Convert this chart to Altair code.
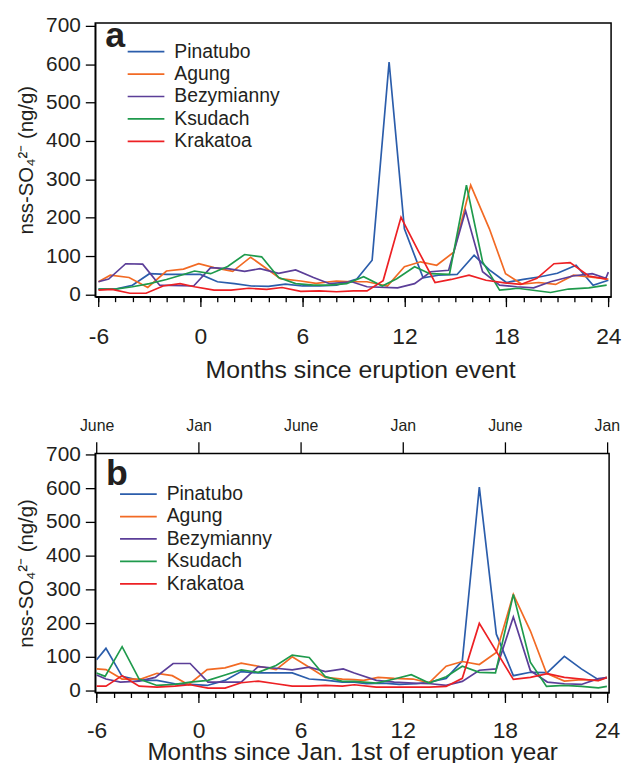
import altair as alt
import pandas as pd

SERIES = ["Pinatubo", "Agung", "Bezymianny", "Ksudach", "Krakatoa"]
COLORS = ["#2b5dab", "#f26a24", "#5b3e98", "#1f9a4c", "#ed2024"]
INK = "#231f20"
FONT = "Liberation Sans"

# ---------------- panel a : months since eruption event ----------------
a_pinatubo_m = [-6.0, -5.0, -4.0, -3.0, -2.0, -1.0, 0.0, 1.0, 2.0, 3.0, 4.0, 5.0, 6.0, 7.0, 8.0, 9.2, 10.1,
                11.1, 12.0, 13.1, 14.0, 15.1, 16.1, 17.0, 18.0, 19.0, 20.0, 21.0, 22.1, 23.1, 24.0]
a_pinatubo_v = [14, 14, 24, 54, 52, 52, 52, 33, 28, 22, 21, 27, 22, 22, 24, 40, 89,
                606, 171, 43, 50, 52, 102, 64, 31, 39, 46, 55, 76, 24, 37]

a_agung_m = [-6.0, -5.3, -4.2, -3.1, -2.0, -1.0, -0.1, 0.8, 1.9, 2.95, 3.9, 4.7, 5.9, 6.8, 8.0, 8.9, 9.8,
             11.0, 12.0, 12.95, 13.9, 14.9, 15.9, 17.0, 17.95, 18.9, 19.9, 20.9, 21.95, 23.0, 24.0]
a_agung_v = [33, 50, 44, 18, 61, 66, 80, 70, 60, 97, 67, 41, 35, 29, 35, 33, 33,
             22, 72, 85, 76, 110, 285, 171, 54, 27, 31, 26, 50, 45, 40]

a_bezym_m = [-6.0, -5.4, -4.4, -3.4, -2.4, -0.4, 0.6, 1.6, 2.6, 3.5, 4.6, 5.6, 6.65, 7.6, 8.9, 9.8,
             11.6, 12.6, 13.55, 14.6, 15.6, 16.6, 17.6, 18.6, 19.6, 20.6, 21.9, 23.05, 23.85, 24.0]
a_bezym_v = [33, 40, 80, 79, 24, 22, 70, 67, 60, 67, 55, 64, 44, 28, 33, 20,
             17, 28, 59, 63, 218, 59, 24, 20, 17, 33, 48, 54, 42, 58]

a_ksudach_m = [-6.0, -5.0, -4.0, -3.0, -2.0, -1.0, -0.35, 0.6, 1.6, 2.6, 3.6, 4.6, 5.6, 6.65, 7.6, 8.6,
               9.6, 10.7, 11.55, 12.6, 13.5, 14.65, 15.65, 16.6, 17.6, 18.65, 20.6, 21.65, 22.85, 23.9]
a_ksudach_v = [14, 14, 20, 28, 39, 52, 61, 54, 73, 104, 98, 44, 28, 24, 24, 28,
               46, 22, 41, 72, 54, 52, 285, 85, 11, 16, 5, 14, 17, 24]

a_krakatoa_m = [-6.0, -5.2, -4.15, -3.2, -2.2, -1.2, -0.35, 0.8, 1.8, 2.85, 3.9, 4.8, 5.9, 7.0, 8.0, 9.0,
                9.8, 10.75, 11.8, 12.8, 13.8, 14.75, 15.8, 16.8, 17.9, 18.85, 19.8, 20.8, 21.75, 22.85, 23.9]
a_krakatoa_v = [11, 13, 3, 3, 22, 28, 20, 11, 11, 16, 13, 18, 8, 9, 7, 9,
                9, 36, 201, 115, 31, 39, 50, 37, 30, 26, 42, 80, 83, 48, 40]

# ---------------- panel b : months since Jan. 1st of eruption year ----------------
b_pinatubo_m = [-6.0, -5.45, -4.5, -3.5, -2.45, -1.4, -0.5, 0.5, 1.55, 2.5, 3.5, 4.55, 5.5, 6.5, 7.45, 8.45,
                9.15, 9.85, 10.85, 11.8, 12.8, 13.55, 14.55, 15.5, 16.5, 17.5, 18.5, 19.5, 20.5, 21.5, 22.5, 23.5, 24.0]
b_pinatubo_v = [91, 125, 42, 30, 30, 20, 18, 15, 30, 56, 52, 52, 52, 34, 31, 25,
                25, 20, 22, 18, 20, 25, 36, 88, 603, 167, 44, 54, 53, 101, 64, 32, 38]

b_agung_m = [-6.0, -5.45, -4.5, -3.4, -2.45, -1.55, -0.6, 0.5, 1.55, 2.5, 3.5, 4.55, 5.5, 6.5, 7.45, 8.45,
             9.15, 9.7, 10.55, 11.5, 12.6, 13.55, 14.55, 15.5, 16.5, 17.5, 18.5, 19.5, 20.45, 21.5, 22.5, 23.5, 24.0]
b_agung_v = [64, 62, 34, 34, 51, 44, 17, 62, 67, 81, 72, 62, 100, 69, 39, 34,
             32, 30, 39, 36, 34, 23, 72, 86, 77, 113, 285, 177, 51, 28, 32, 30, 40]

b_bezym_m = [-6.0, -5.45, -4.6, -3.5, -2.55, -1.5, -0.5, 0.55, 1.55, 2.5, 3.5, 4.55, 5.5, 6.5, 7.45, 8.5,
             9.15, 10.45, 11.5, 12.6, 13.65, 14.55, 15.5, 16.5, 17.5, 18.5, 19.5, 20.5, 21.5, 22.5, 23.5, 24.0]
b_bezym_v = [46, 34, 25, 28, 39, 80, 80, 25, 25, 25, 71, 66, 61, 69, 56, 64,
             52, 30, 25, 22, 20, 15, 27, 60, 64, 218, 59, 25, 20, 18, 35, 38]

b_ksudach_m = [-6.0, -5.5, -4.5, -3.5, -2.45, -1.4, -0.5, 0.55, 1.55, 2.5, 3.5, 4.55, 5.5, 6.5, 7.45, 8.45,
               9.15, 10.45, 11.5, 12.5, 13.55, 14.55, 15.5, 16.5, 17.45, 18.5, 19.5, 20.45, 21.5, 22.5, 23.5, 24.0]
b_ksudach_v = [52, 42, 130, 34, 15, 18, 25, 30, 46, 61, 54, 74, 105, 98, 41, 27,
               27, 22, 34, 47, 22, 41, 72, 54, 52, 285, 84, 12, 15, 12, 8, 12]

b_krakatoa_m = [-6.0, -5.45, -4.5, -3.5, -2.45, -1.4, -0.5, 0.55, 1.55, 2.5, 3.5, 4.55, 5.5, 6.5, 7.45, 8.45,
                9.15, 10.45, 11.5, 12.6, 13.55, 14.55, 15.5, 16.5, 17.5, 18.5, 19.5, 20.5, 21.5, 22.5, 23.5, 24.0]
b_krakatoa_v = [13, 13, 44, 13, 10, 13, 17, 7, 7, 23, 28, 20, 13, 13, 15, 13,
                17, 10, 10, 10, 10, 12, 36, 199, 116, 33, 39, 50, 39, 34, 29, 38]

MAJOR_TICKS = [-6, 0, 6, 12, 18, 24]
MINOR_TICKS = list(range(-6, 25))
Y_TICKS = [0, 100, 200, 300, 400, 500, 600, 700]
Y_TITLE = "nss-SO\u2084\u00b2\u207b (ng/g)"


def long_df(pairs):
    rows = []
    for name, (ms, vs) in zip(SERIES, pairs):
        for i, (m, v) in enumerate(zip(ms, vs)):
            rows.append({"series": name, "month": m, "value": v, "idx": i})
    return pd.DataFrame(rows)


df_a = long_df([(a_pinatubo_m, a_pinatubo_v), (a_agung_m, a_agung_v), (a_bezym_m, a_bezym_v),
                (a_ksudach_m, a_ksudach_v), (a_krakatoa_m, a_krakatoa_v)])
df_b = long_df([(b_pinatubo_m, b_pinatubo_v), (b_agung_m, b_agung_v), (b_bezym_m, b_bezym_v),
                (b_ksudach_m, b_ksudach_v), (b_krakatoa_m, b_krakatoa_v)])


def panel(df, letter, letter_m, letter_v, xdom, ydom, w, h, leg_x, leg_y, xtitle,
          lab_pad, title_pad, title_x, title_size, top_axis):
    xs = alt.Scale(domain=xdom, nice=False, zero=False)
    ys = alt.Scale(domain=ydom, nice=False, zero=False)
    yaxis = alt.Axis(values=Y_TICKS, title=Y_TITLE, tickSize=10, labelPadding=5, titlePadding=9,
                     labelFontSize=21, titleFontSize=20.5, orient="left", grid=False)
    Y = alt.Y("value:Q", scale=ys, axis=yaxis)
    lines = alt.Chart(df).mark_line(strokeWidth=1.7).encode(
        x=alt.X("month:Q", scale=xs, axis=alt.Axis(
            orient="bottom", values=MAJOR_TICKS, labelExpr="'' + datum.value", title=xtitle, tickSize=10,
            labelPadding=lab_pad, titlePadding=title_pad, titleX=title_x, labelFlush=False,
            labelOverlap=False, labelBound=False, labelFontSize=23, titleFontSize=title_size, grid=False)),
        y=Y,
        color=alt.Color("series:N", sort=SERIES,
                        scale=alt.Scale(domain=SERIES, range=COLORS),
                        legend=alt.Legend(orient="none", legendX=leg_x, legendY=leg_y, title=None,
                                          symbolType="stroke", symbolSize=1369, symbolStrokeWidth=1.7,
                                          labelFontSize=19.5, labelFont=FONT, labelColor=INK,
                                          labelOffset=9, clipHeight=20, rowPadding=2.6, padding=0,
                                          labelLimit=0)),
        order="idx:Q",
    )
    minor = alt.Chart(df).mark_point(opacity=0).encode(
        x=alt.X("month:Q", scale=xs, axis=alt.Axis(
            orient="bottom", values=MINOR_TICKS, labels=False, domain=False, title=None, tickSize=5,
            grid=False)),
        y=Y,
    )
    ldf = pd.DataFrame({"month": [letter_m], "value": [letter_v], "label": [letter]})
    txt = alt.Chart(ldf).mark_text(align="left", baseline="alphabetic", fontSize=36, fontWeight="bold",
                                   font=FONT, color=INK).encode(
        x=alt.X("month:Q", scale=xs, axis=None),
        y=Y,
        text="label:N",
    )
    layers = [lines, minor, txt]
    if top_axis:
        top = alt.Chart(df).mark_point(opacity=0).encode(
            x=alt.X("month:Q", scale=xs, axis=alt.Axis(
                orient="top", values=MAJOR_TICKS, title=None, domain=False, tickSize=11.7,
                labelPadding=8.5, labelFontSize=16, labelFlush=False, labelOverlap=False, labelBound=False,
                grid=False, labelExpr="datum.value % 12 == 0 ? 'Jan' : 'June'")),
            y=Y,
        )
        layers.append(top)
    return alt.layer(*layers).resolve_axis(x="independent").properties(width=w, height=h)


pa = panel(df_a, "a", -5.6, 645, [-6.19, 24.16], [-6, 708], 520, 276, 31.7, 19,
           "Months since eruption event", 19, 9, 267, 25, False)
pb = panel(df_b, "b", -5.45, 609, [-6.08, 24.13], [-6, 703], 518, 241, 24, 31,
           "Months since Jan. 1st of eruption year", 17, -1, 259, 24.5, True)

chart = alt.vconcat(pa, pb, spacing=34).resolve_scale(color="independent").properties(
    padding={"left": 16, "top": 11, "right": 0, "bottom": 0},
    background="white",
).configure(
    font=FONT
).configure_view(
    stroke="black", strokeWidth=1.5
).configure_axis(
    grid=False, domainColor="black", domainWidth=1.5, tickColor="black", tickWidth=1.3,
    labelColor=INK, titleColor=INK, labelFont=FONT, titleFont=FONT, titleFontWeight="normal"
)

chart.save("out.html", embed_options={"renderer": "svg", "actions": False})
